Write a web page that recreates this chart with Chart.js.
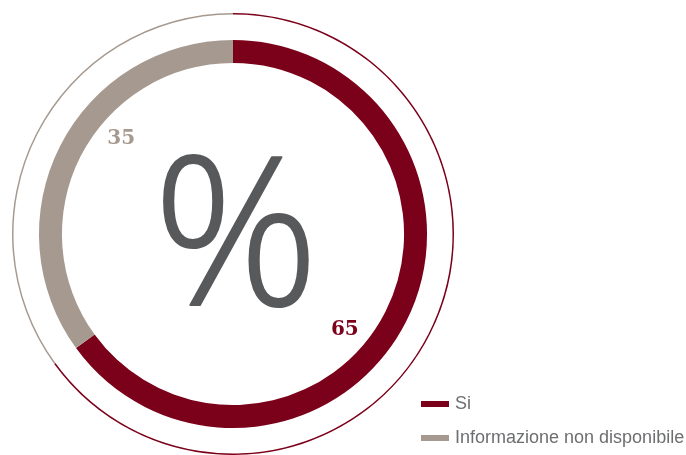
<!DOCTYPE html>
<html>
<head>
<meta charset="utf-8">
<script src="https://cdn.jsdelivr.net/npm/chart.js@4/dist/chart.umd.min.js"></script>
<style>
  html, body { margin: 0; padding: 0; background: #fff; }
  #wrap { width: 686px; height: 455px; position: relative; }
</style>
</head>
<body>
<div id="wrap"><canvas id="chart1" width="686" height="455"></canvas></div>
<script>
const labels = ['Si', 'Informazione non disponibile'];
const values = [65, 35];
const colors = ['#7b0019', '#a69a90'];

// thin outer ring, empty spacer ring, thick inner ring
const ringWeights = [1.5, 25.5, 23];

// value labels + centre sign + legend, all painted after the arcs
const overlay = {
  id: 'overlay',
  afterDraw(chart) {
    const c = chart.ctx;
    const inner = chart.getDatasetMeta(2).data;

    c.save();
    // numbers next to the thick ring
    c.font = 'bold 20px "DejaVu Serif"';
    c.textAlign = 'center';
    c.textBaseline = 'middle';
    inner.forEach((arc, i) => {
      const a = (arc.startAngle + arc.endAngle) / 2 + 13.5 * Math.PI / 180;
      const r = arc.innerRadius - 24;
      c.fillStyle = colors[i];
      c.fillText(values[i], arc.x + r * Math.cos(a), arc.y + r * Math.sin(a));
    });

    // big percent sign in the middle (light face, thickened a little)
    c.fillStyle = '#58595b';
    c.strokeStyle = '#58595b';
    c.lineWidth = 2;
    c.lineJoin = 'round';
    c.font = '300 206px "Open Sans"';
    c.textBaseline = 'alphabetic';
    c.fillText('%', inner[0].x + 3, 305);
    c.strokeText('%', inner[0].x + 3, 305);

    // legend, bottom right
    c.font = '18px "Liberation Sans"';
    c.textAlign = 'left';
    labels.forEach((lab, i) => {
      const y = 409 + i * 34;
      c.fillStyle = colors[i];
      c.fillRect(421, y - 8, 28, 6);
      c.fillStyle = '#6d6e70';
      c.fillText(lab, 455, y);
    });
    c.restore();
  }
};

const ctx = document.getElementById('chart1');

const myChart = new Chart(ctx, {
  type: 'doughnut',
  data: {
    labels: labels,
    datasets: [{
      data: values,
      backgroundColor: colors,
      weight: ringWeights[0]
    }, {
      data: values,
      backgroundColor: 'rgba(0,0,0,0)',
      weight: ringWeights[1]
    }, {
      data: values,
      backgroundColor: colors,
      weight: ringWeights[2]
    }]
  },
  options: {
    responsive: false,
    animation: false,
    events: [],
    cutout: '77.4%',
    borderWidth: 0,
    layout: { padding: { left: 0, right: 220, top: 13, bottom: 0 } },
    plugins: {
      legend: { display: false },
      tooltip: { enabled: false }
    }
  },
  plugins: [overlay]
});
</script>
</body>
</html>
